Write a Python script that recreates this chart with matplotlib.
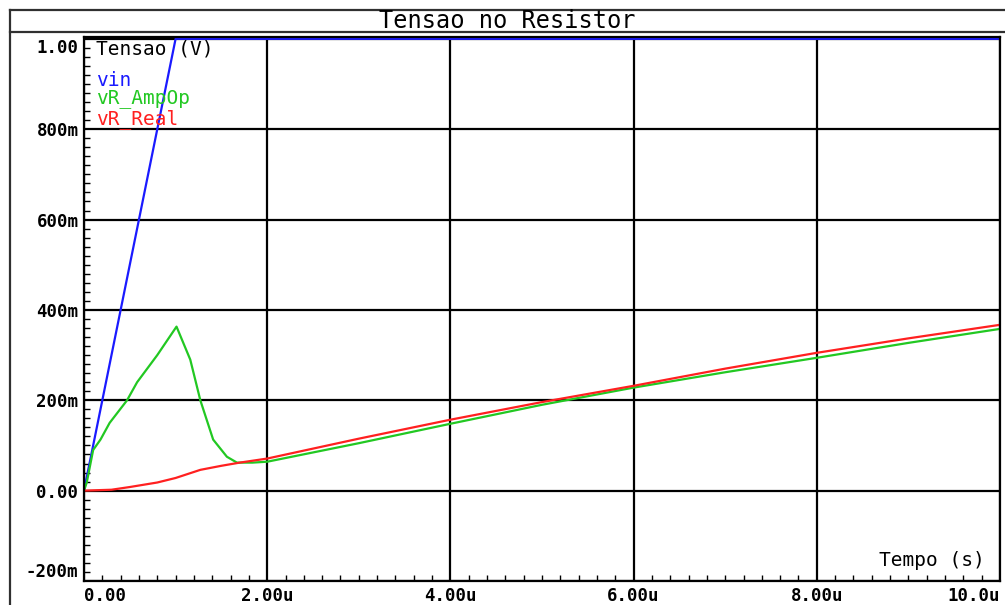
import numpy as np
import matplotlib
matplotlib.use('Agg')
import matplotlib.pyplot as plt
from matplotlib.lines import Line2D
from matplotlib.ticker import FixedLocator, MultipleLocator

# dados (tempo em us, tensao em V)
t_vin = [0.0, 1.0, 10.0]
v_vin = [0.0, 1.0, 1.0]

t_amp = [0, 0.03, 0.1, 0.18, 0.28, 0.47, 0.58, 0.8, 1.01, 1.16, 1.27, 1.41,
         1.56, 1.67, 1.84, 2.0, 3.0, 4.0, 5.0, 6.0, 7.0, 8.0, 9.0, 10.0]
v_amp = [0, 0.018, 0.09, 0.113, 0.15, 0.20, 0.24, 0.30, 0.363, 0.29, 0.20, 0.113,
         0.075, 0.062, 0.062, 0.064, 0.105, 0.148, 0.19, 0.228, 0.262, 0.294, 0.327, 0.358]

t_real = [0, 0.3, 0.5, 0.8, 1.0, 1.27, 1.5, 1.7, 2.0, 3.0, 4.0, 5.0, 6.0,
          7.0, 8.0, 9.0, 10.0]
v_real = [0, 0.002, 0.008, 0.018, 0.028, 0.046, 0.055, 0.062, 0.071, 0.115, 0.157,
          0.196, 0.232, 0.27, 0.305, 0.337, 0.367]

x_ticks = [0, 2, 4, 6, 8, 10]
x_labels = ['0.00', '2.00u', '4.00u', '6.00u', '8.00u', '10.0u']
y_ticks = [-0.2, 0.0, 0.2, 0.4, 0.6, 0.8, 1.0]
y_labels = ['-200m', '0.00', '200m', '400m', '600m', '800m', '1.00']

W, H = 1005, 605
fig = plt.figure(figsize=(W / 100, H / 100), dpi=100)
fig.patch.set_facecolor('white')

# moldura externa e barra do titulo
fr = '#303030'
def fline(x0, y0, x1, y1):
    fig.add_artist(Line2D([x0 / W, x1 / W], [1 - y0 / H, 1 - y1 / H],
                          transform=fig.transFigure, color=fr, lw=1.6))
fline(10, 10, W + 5, 10)
fline(10, 10, 10, H + 5)
fline(10, 32, W + 5, 32)
fig.text(507 / W, 1 - 21 / H, 'Tensao no Resistor', family='DejaVu Sans Mono',
         fontsize=17, ha='center', va='center', color='black')

ax = fig.add_axes([84 / W, 1 - 581 / H, (1000 - 84) / W, (581 - 37) / H])
ax.plot(t_vin, v_vin, color='#1a1aff', lw=1.6)
ax.plot(t_amp, v_amp, color='#22c822', lw=1.6)
ax.plot(t_real, v_real, color='#ff2020', lw=1.6)

ax.set_xlim(0, 10)
ax.set_ylim(-0.2, 1.004)
ax.xaxis.set_major_locator(FixedLocator(x_ticks))
ax.yaxis.set_major_locator(FixedLocator(y_ticks))
ax.xaxis.set_minor_locator(MultipleLocator(0.2))
ax.yaxis.set_minor_locator(MultipleLocator(0.02))
ax.set_xticklabels(x_labels)
ax.set_yticklabels(y_labels)
ax.grid(True, which='major', color='black', lw=1.6)
ax.tick_params(which='major', length=0, pad=4, labelsize=12.5)
ax.tick_params(which='minor', direction='in', length=4, width=1, color='black')
for lab in ax.get_xticklabels() + ax.get_yticklabels():
    lab.set_family('DejaVu Sans Mono')
    lab.set_fontweight('bold')
ax.get_xticklabels()[0].set_ha('left')
ax.get_xticklabels()[-1].set_ha('right')
ax.get_yticklabels()[0].set_va('bottom')
ax.get_yticklabels()[-1].set_va('top')
for s in ax.spines.values():
    s.set_linewidth(1.6)
    s.set_color('black')

# legenda no estilo PSpice
mono = 'DejaVu Sans Mono'
ax.text(12 / 916, 1 - 12 / 544, 'Tensao (V)', transform=ax.transAxes,
        family=mono, fontsize=14, va='center', ha='left', color='black')
ax.text(12 / 916, 1 - 43 / 544, 'vin', transform=ax.transAxes,
        family=mono, fontsize=14, va='center', ha='left', color='#1a1aff')
ax.text(12 / 916, 1 - 62 / 544, 'vR_AmpOp', transform=ax.transAxes,
        family=mono, fontsize=14, va='center', ha='left', color='#22c822')
ax.text(12 / 916, 1 - 82 / 544, 'vR_Real', transform=ax.transAxes,
        family=mono, fontsize=14, va='center', ha='left', color='#ff2020')
ax.text(1 - 15 / 916, 20 / 544, 'Tempo (s)', transform=ax.transAxes,
        family=mono, fontsize=14, va='center', ha='right', color='black')

fig.savefig('out.png', dpi=100)
